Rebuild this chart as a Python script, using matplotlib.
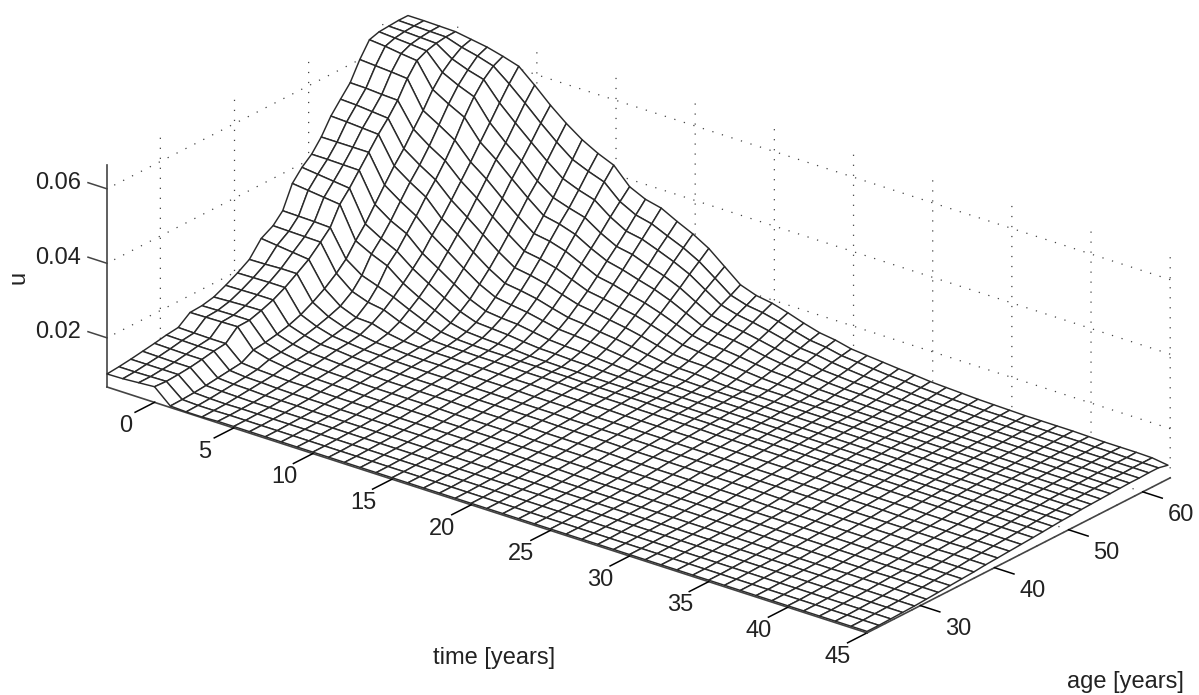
import numpy as np
import matplotlib
matplotlib.use("Agg")
import matplotlib.pyplot as plt
from mpl_toolkits.mplot3d import proj3d

plt.rcParams['font.family'] = ['Liberation Sans', 'DejaVu Sans']

time_years = list(range(-3, 46))
age_years = [22.8, 24.4, 26, 27.6, 29.2, 30.8, 32.4, 34, 35.6, 37.2, 38.8, 40.4, 42, 43.6, 45.2,
             46.5, 47.8, 49.1, 50.4, 51.7, 53, 54.3, 55.6, 56.9, 58.2, 59.5, 60.8, 62.1, 63.4]

# u * 10000, one row per year, one column per age
u_table = [
    [103,106,110,115,120,126,130,154,156,163,178,195,215,255,273,300,360,390,412,445,488,520,551,600,640,648,650,652,652],
    [104,106,110,114,119,125,129,155,157,165,179,196,216,250,272,299,355,385,412,445,486,518,550,597,636,645,649,651,652],
    [107,107,110,113,118,124,128,156,158,167,180,197,218,245,271,298,350,380,411,445,483,514,547,594,630,642,647,650,651],
    [110,108,110,113,118,124,128,157,158,168,180,197,218,240,270,296,345,375,410,445,480,510,545,590,625,638,645,649,650],
    [72,73,75,78,82,86,90,108,112,118,126,138,155,175,200,225,261,293,332,371,409,442,481,518,561,594,617,635,643],
    [70,71,73,76,79,82,86,96,100,105,112,120,130,142,165,195,239,268,302,341,379,412,450,493,536,573,601,625,636],
    [70,71,72,75,78,81,84,90,93,97,102,108,115,125,150,180,221,247,281,315,353,386,424,466,514,556,589,612,625],
    [72,72,73,74,76,79,82,86,90,95,100,103,109,123,143,164,188,214,242,277,309,345,383,421,461,500,540,578,612],
    [72,72,73,74,76,78,82,85,88,92,96,99,102,110,125,144,164,188,215,247,280,313,351,389,428,460,500,540,575],
    [72,72,73,74,76,78,81,84,87,91,94,97,100,103,112,126,143,163,187,216,246,280,315,351,390,425,462,500,535],
    [72,72,73,74,75,78,80,83,86,89,92,95,97,100,103,112,123,140,160,187,215,247,281,316,353,385,425,463,500],
    [72,72,73,74,75,77,80,82,85,88,91,94,96,99,101,106,113,125,142,166,190,219,250,284,319,354,392,430,470],
    [72,72,73,74,75,77,80,82,85,88,91,93,96,99,101,104,110,122,137,159,184,212,243,277,310,340,375,412,447],
    [72,72,73,74,75,77,79,82,85,88,91,93,96,98,100,103,108,119,134,153,176,202,232,264,296,328,362,397,429],
    [72,72,73,74,75,77,79,82,85,88,90,93,95,98,100,103,106,114,127,144,164,188,215,244,272,300,330,358,385],
    [72,72,73,74,75,77,79,82,85,88,90,92,95,97,100,102,103,110,120,135,153,175,198,224,252,278,306,336,365],
    [72,72,73,74,75,77,79,81,84,87,90,92,95,97,99,102,102,109,117,132,149,169,191,216,242,270,298,326,355],
    [72,72,73,74,75,77,79,81,84,87,90,92,95,97,99,101,101,107,115,128,142,161,182,204,229,254,282,307,333],
    [72,72,73,74,75,77,79,81,84,87,90,92,94,96,99,101,101,106,112,123,137,154,174,194,217,240,265,289,313],
    [72,72,73,74,75,77,79,81,84,87,90,92,94,96,98,100,100,104,109,118,130,145,162,180,201,222,245,266,288],
    [72,72,73,74,75,77,79,81,84,87,90,92,94,96,98,100,100,103,106,113,122,134,149,164,181,198,217,235,253],
    [72,72,73,74,75,77,79,81,83,86,89,91,94,96,98,100,100,102,104,109,116,124,136,148,161,175,190,203,218],
    [72,72,73,74,75,77,79,81,83,86,89,91,93,96,98,100,100,102,103,107,113,120,131,140,153,165,178,190,203],
    [72,72,73,74,75,77,79,81,83,86,89,91,93,95,97,100,100,102,104,106,112,119,127,137,149,159,171,184,196],
    [72,72,73,74,75,77,79,81,83,86,89,91,93,95,97,99,100,102,103,105,109,115,123,132,142,151,162,174,184],
    [72,72,73,74,75,76,78,81,83,86,88,91,93,95,97,99,100,102,103,105,106,112,119,126,134,142,152,162,170],
    [72,72,73,74,75,76,78,80,83,85,88,91,93,95,97,99,100,102,103,105,106,109,115,121,128,135,143,151,158],
    [72,72,73,74,75,76,78,80,82,85,88,90,92,95,97,99,100,102,103,105,106,109,113,119,125,132,139,146,152],
    [72,72,73,74,75,76,78,80,82,85,88,90,92,94,96,98,100,102,103,105,106,109,112,116,121,125,132,137,142],
    [72,72,73,74,75,76,78,80,82,85,88,90,92,94,96,98,100,102,103,105,106,107,109,113,117,122,127,133,138],
    [72,72,73,74,75,76,78,80,82,85,88,90,92,94,96,98,100,102,103,105,106,107,108,112,115,119,123,129,134],
    [72,72,73,74,75,76,78,80,82,85,88,90,92,94,96,98,100,102,103,105,106,107,109,111,114,118,121,125,130],
    [72,72,73,74,75,76,78,80,82,85,88,90,92,94,96,98,100,102,103,105,106,107,108,110,113,116,119,123,127],
    [72,72,73,74,75,76,78,80,82,85,88,90,92,94,96,98,100,102,103,105,106,107,108,110,112,114,117,120,123],
    [72,72,73,74,75,76,78,80,82,85,88,90,92,94,96,98,100,102,103,105,106,107,108,109,111,113,115,118,121],
    [72,72,73,74,75,76,78,80,82,84,87,90,92,94,96,98,100,102,103,105,106,107,108,109,110,112,114,116,119],
    [72,72,73,74,75,76,78,80,82,84,87,90,92,94,96,98,100,102,103,105,106,107,108,109,110,111,113,115,117],
    [72,72,73,74,75,76,78,80,82,84,87,90,92,94,96,98,100,102,103,105,106,107,108,109,110,111,112,114,116],
    [72,72,73,74,75,76,78,80,82,84,87,89,92,94,96,98,100,102,103,105,106,107,108,109,110,111,112,114,115],
    [72,72,73,74,75,76,78,80,82,84,87,89,92,94,96,98,100,102,103,105,106,107,108,109,110,111,112,113,114],
    [72,72,73,74,75,76,78,80,82,84,87,89,92,94,96,98,100,102,103,105,106,107,108,109,110,111,112,113,114],
    [72,72,73,74,75,76,78,80,82,84,87,89,91,94,96,98,100,102,103,105,106,107,108,109,110,111,112,113,114],
    [72,72,73,74,75,76,78,80,82,84,87,89,91,93,96,98,100,102,103,105,106,107,108,109,110,111,112,113,114],
    [72,72,73,74,75,77,78,80,82,84,87,89,91,93,96,98,100,102,103,105,106,107,108,109,110,111,112,113,113],
    [72,72,73,74,75,77,78,80,82,84,87,89,91,93,96,98,100,102,103,105,106,107,108,109,110,111,111,112,112],
    [72,72,73,74,75,77,79,80,82,84,87,89,91,93,96,98,100,102,103,105,106,107,108,109,110,111,111,112,112],
    [72,72,73,74,75,77,79,81,83,85,88,90,92,94,96,98,100,102,103,105,106,107,108,109,110,110,111,111,112],
    [72,72,73,74,75,77,79,81,83,85,88,90,92,94,96,98,100,102,103,105,106,107,108,109,110,110,111,111,111],
    [72,72,73,74,75,77,79,81,83,85,88,90,92,94,96,98,100,102,103,105,106,107,108,109,110,110,111,111,105],
]

time_ticks = [0, 5, 10, 15, 20, 25, 30, 35, 40, 45]
age_ticks = [30, 40, 50, 60]
u_ticks = [0.02, 0.04, 0.06]
u_tick_labels = ['0.02', '0.04', '0.06']

W, H = 1199, 695
T_MIN, T_MAX = -3, 45
A_MIN, A_MAX = 22.8, 63.7
U_MIN, U_MAX = 0.0068, 0.0664
LINE = '#2a2a2a'
AXIS = '#444444'
TEXT = '#222222'
FS = 17

T, A = np.meshgrid(time_years, age_years, indexing='ij')
U = np.array(u_table) / 10000.0

fig = plt.figure(figsize=(W / 100, H / 100), dpi=100)
ax = fig.add_axes([0.2, 0.1, 0.6, 0.8], projection='3d', proj_type='ortho')
ax.view_init(elev=24, azim=-51.5)
ax.set_box_aspect((971, 487, 243))

surf = ax.plot_surface(T, A, U, rstride=1, cstride=1, color='white', edgecolor=LINE,
                       linewidth=1.05, shade=False, antialiased=True)
surf.set_clip_on(False)

ax.set_xlim(T_MIN, T_MAX)
ax.set_ylim(A_MIN, A_MAX)
ax.set_zlim(U_MIN, U_MAX)
ax.set_xticks(time_ticks)
ax.set_yticks(age_ticks)
ax.set_zticks(u_ticks)
ax.set_xticklabels([])
ax.set_yticklabels([])
ax.set_zticklabels([])

tick_len = {'x': -0.8, 'y': -0.32, 'z': 0}
for name, axis in (('x', ax.xaxis), ('y', ax.yaxis), ('z', ax.zaxis)):
    axis.pane.set_visible(False)
    axis.line.set_color(AXIS)
    axis.line.set_linewidth(1.2)
    axis._axinfo['grid'].update(color='#444444', linewidth=0.9, linestyle=(0, (1, 7)))
    axis._axinfo['tick'].update(inward_factor=0, outward_factor=tick_len[name])
    axis._axinfo['tick']['linewidth'] = {True: 1.1, False: 0.5}
    axis._axinfo['tick']['color'] = AXIS
ax.zaxis.set_ticks_position('lower')

for u in u_ticks:
    ax.plot([T_MIN, T_MIN - 1.2], [A_MIN, A_MIN], [u, u], color=AXIS, lw=1.1, clip_on=False)


def corner_px(t, a, u):
    x, y, _ = proj3d.proj_transform(t, a, u, ax.get_proj())
    return ax.transData.transform((x, y))


def label_at(t, a, u, s):
    px = corner_px(t, a, u)
    fig.text(px[0] / W, px[1] / H, s, fontsize=FS, color=TEXT, ha='center', va='center')


# scale and shift so the front axis lands where it should
fig.canvas.draw()
p0 = corner_px(T_MIN, A_MIN, U_MIN)
p1 = corner_px(T_MAX, A_MIN, U_MIN)
ax.set_box_aspect((971, 487, 243), zoom=760 / (p1[0] - p0[0]))
fig.canvas.draw()
p0 = corner_px(T_MIN, A_MIN, U_MIN)
pos = ax.get_position(original=True)
ax.set_position([pos.x0 + (107 - p0[0]) / W, pos.y0 + (H - 387 - p0[1]) / H, pos.width, pos.height])
fig.canvas.draw()

# tick labels sit off the box, along the direction of each tick
for t in time_ticks:
    label_at(t, A_MIN - 3.9, U_MIN - 0.0024, str(t))
for a in age_ticks:
    label_at(T_MAX + 2.4, a, U_MIN - 0.0029, str(a))
for u, lab in zip(u_ticks, u_tick_labels):
    label_at(T_MIN - 3.1, A_MIN, u - 0.0027, lab)

fig.text(494 / W, 1 - 658 / H, 'time [years]', fontsize=FS, ha='center', va='center', color=TEXT)
fig.text(1125 / W, 1 - 682 / H, 'age [years]', fontsize=FS, ha='center', va='center', color=TEXT)
fig.text(18 / W, 1 - 277 / H, 'u', fontsize=FS, rotation=90, ha='center', va='center', color=TEXT)

fig.savefig('out.png', dpi=100)
